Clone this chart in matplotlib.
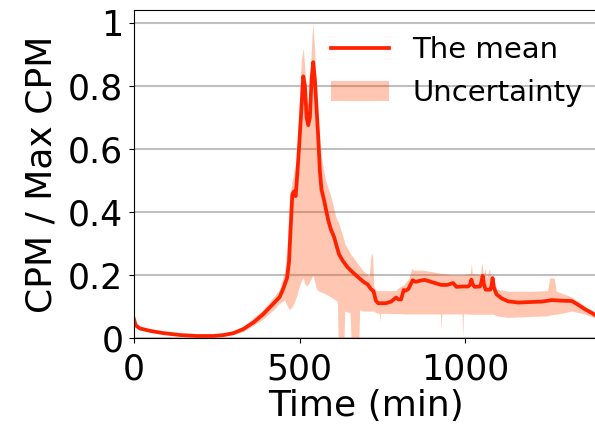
import numpy as np
import matplotlib
matplotlib.use('Agg')
import matplotlib.pyplot as plt

# mean curve (time in min, normalised CPM)
t_mean = [0, 5, 18, 50, 90, 140, 190, 240, 271, 300, 330, 362, 390, 422, 440, 452, 462, 468,
          472, 478, 483, 488, 493, 498, 505, 511, 516, 521, 526, 531, 536, 541, 546, 551, 556,
          561, 566, 572, 578, 586, 594, 604, 612, 619, 630, 644, 660, 675, 695, 705, 715, 723,
          730, 737, 745, 760, 776, 784, 791, 798, 806, 814, 820, 828, 834, 841, 850, 865, 877,
          890, 902, 915, 927, 945, 963, 973, 990, 1008, 1014, 1018, 1022, 1028, 1044, 1048,
          1052, 1056, 1061, 1075, 1079, 1082, 1086, 1094, 1110, 1129, 1160, 1200, 1230, 1261,
          1290, 1321, 1340, 1362, 1380, 1400]
mean = [0.06, 0.04, 0.03, 0.022, 0.015, 0.009, 0.006, 0.006, 0.009, 0.015, 0.028, 0.05, 0.075,
        0.11, 0.13, 0.16, 0.19, 0.24, 0.33, 0.455, 0.465, 0.45, 0.52, 0.60, 0.72, 0.83, 0.80,
        0.70, 0.675, 0.70, 0.82, 0.875, 0.82, 0.73, 0.64, 0.53, 0.47, 0.445, 0.415, 0.375,
        0.345, 0.32, 0.29, 0.265, 0.245, 0.225, 0.208, 0.194, 0.176, 0.17, 0.155, 0.148, 0.118,
        0.11, 0.11, 0.11, 0.115, 0.122, 0.128, 0.122, 0.122, 0.152, 0.15, 0.155, 0.168, 0.183,
        0.178, 0.182, 0.184, 0.18, 0.176, 0.172, 0.168, 0.168, 0.174, 0.162, 0.163, 0.163,
        0.168, 0.185, 0.17, 0.162, 0.163, 0.175, 0.197, 0.17, 0.153, 0.153, 0.165, 0.19, 0.16,
        0.138, 0.125, 0.116, 0.112, 0.114, 0.115, 0.12, 0.118, 0.117, 0.105, 0.09, 0.08, 0.067]

# uncertainty band
t_band = [0, 18, 90, 190, 271, 300, 330, 362, 390, 422, 440, 455, 463, 470, 478, 483, 490, 498,
          505, 511, 516, 521, 526, 531, 536, 540, 545, 551, 558, 566, 578, 594, 609, 614, 616,
          634, 636, 652, 655, 679, 681, 690, 710, 714, 717, 720, 724, 730, 740, 742, 744, 760,
          790, 800, 815, 830, 838, 845, 870, 900, 925, 927, 929, 960, 990, 992, 994, 1015, 1018,
          1021, 1045, 1050, 1054, 1060, 1064, 1073, 1077, 1085, 1094, 1130, 1200, 1248, 1254,
          1268, 1274, 1321, 1362, 1400]
band_lo = [0.05, 0.025, 0.011, 0.003, 0.006, 0.01, 0.02, 0.04, 0.06, 0.09, 0.11, 0.12, 0.10,
           0.09, 0.10, 0.11, 0.13, 0.16, 0.18, 0.19, 0.17, 0.165, 0.17, 0.18, 0.19, 0.20, 0.18,
           0.155, 0.148, 0.145, 0.14, 0.13, 0.12, 0.115, 0.0, 0.0, 0.085, 0.08, 0.0, 0.0, 0.09,
           0.085, 0.085, 0.085, 0.085, 0.085, 0.085, 0.08, 0.078, 0.05, 0.078, 0.078, 0.077,
           0.077, 0.076, 0.076, 0.076, 0.076, 0.076, 0.076, 0.076, 0.025, 0.076, 0.076, 0.076,
           0.0, 0.076, 0.075, 0.075, 0.075, 0.075, 0.075, 0.075, 0.075, 0.075, 0.075, 0.075,
           0.075, 0.07, 0.065, 0.068, 0.07, 0.072, 0.075, 0.075, 0.085, 0.075, 0.06]
band_hi = [0.065, 0.035, 0.019, 0.009, 0.012, 0.02, 0.035, 0.065, 0.09, 0.13, 0.155, 0.21, 0.30,
           0.45, 0.50, 0.53, 0.56, 0.72, 0.88, 0.92, 0.85, 0.76, 0.74, 0.82, 0.93, 1.0, 0.92,
           0.76, 0.66, 0.57, 0.50, 0.45, 0.385, 0.37, 0.37, 0.31, 0.30, 0.27, 0.265, 0.23, 0.228,
           0.215, 0.195, 0.25, 0.27, 0.26, 0.16, 0.152, 0.15, 0.15, 0.15, 0.15, 0.15, 0.16, 0.17,
           0.19, 0.22, 0.215, 0.215, 0.21, 0.205, 0.205, 0.205, 0.2, 0.2, 0.2, 0.2, 0.205, 0.235,
           0.205, 0.2, 0.24, 0.2, 0.22, 0.19, 0.22, 0.18, 0.19, 0.155, 0.148, 0.148, 0.15, 0.19,
           0.19, 0.148, 0.13, 0.1, 0.075]

fig = plt.figure(figsize=(5.95, 4.25), dpi=100)
ax = fig.add_axes([0.225, 0.205, 0.78, 0.771])

ax.grid(axis='y', color='#bfbfbf', linewidth=1.5)
ax.set_axisbelow(True)
ax.plot(t_mean, mean, color='#ff2200', linewidth=2.7, label='The mean')
ax.fill_between(t_band, band_lo, band_hi, color='orangered', alpha=0.3, linewidth=0,
                label='Uncertainty')

ax.set_xlim(0, 1400)
ax.set_ylim(0, 1.04)
ax.set_xticks([0, 500, 1000])
ax.set_yticks([0, 0.2, 0.4, 0.6, 0.8, 1])
ax.set_yticklabels(['0', '0.2', '0.4', '0.6', '0.8', '1'])
ax.tick_params(axis='x', labelsize=25, pad=7)
ax.tick_params(axis='y', labelsize=25, pad=4)
ax.set_xlabel('Time (min)', fontsize=26, labelpad=2)
ax.set_ylabel('CPM / Max CPM', fontsize=26, labelpad=7)

ax.legend(loc='upper right', frameon=False, fontsize=21, handlelength=2.0,
          bbox_to_anchor=(1.024, 1.0))

fig.savefig('out.png', dpi=100)
